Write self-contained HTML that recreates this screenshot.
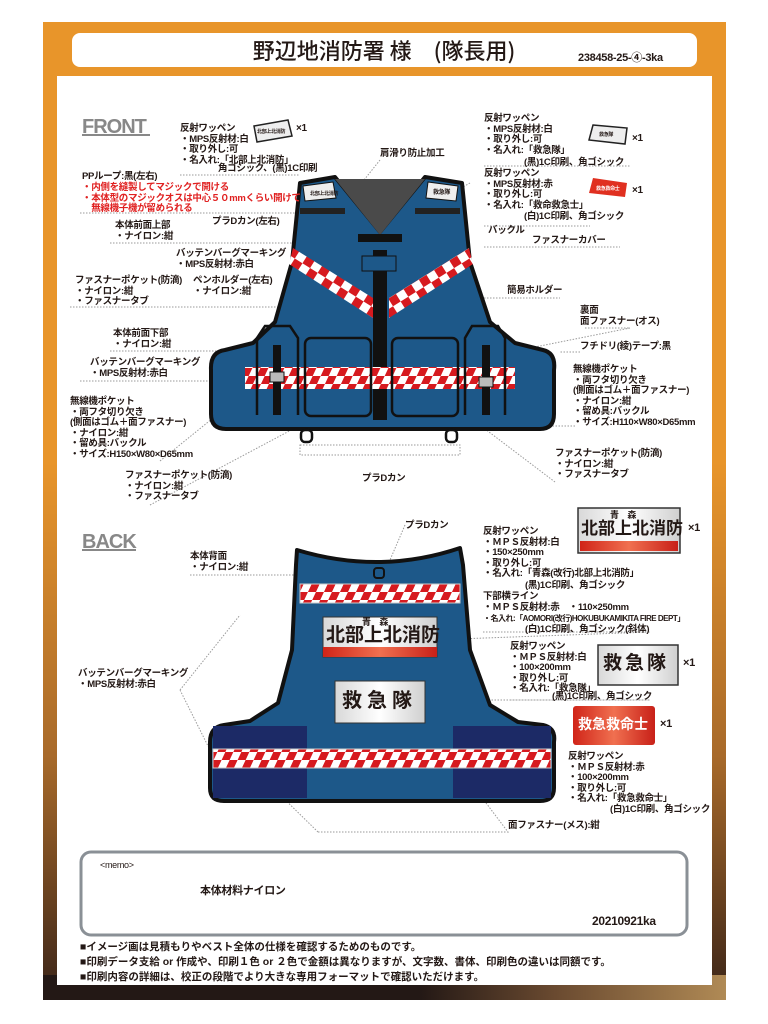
<!DOCTYPE html>
<html><head><meta charset="utf-8"><style>
*{margin:0;padding:0;box-sizing:border-box}
body{width:768px;height:1024px;background:#fff;position:relative;overflow:hidden;font-family:"Liberation Sans","Noto Sans CJK JP",sans-serif;color:#231815}
.t{position:absolute;font-size:9.5px;line-height:10.6px;font-weight:bold;white-space:pre;letter-spacing:-0.3px}
.r{color:#e02020}
</style></head><body>
<div style="position:absolute;left:43px;top:22px;width:683px;height:978px;background:linear-gradient(to bottom,#e8952a 0%,#e8952a 45%,#a86a2a 75%,#3a2418 100%)"></div>
<div style="position:absolute;left:43px;top:975px;width:683px;height:25px;background:linear-gradient(to right,#231815 0%,#231815 55%,#6a4a30 75%,#b08a55 100%)"></div>
<div style="position:absolute;left:57px;top:76px;width:655px;height:909px;background:#fff"></div>
<div style="position:absolute;left:72px;top:33px;width:625px;height:34px;background:#fff;border-radius:8px"></div>
<div style="position:absolute;left:0;width:768px;top:33px;text-align:center;font-size:22px;line-height:34px;font-family:'Noto Sans CJK JP',sans-serif;font-weight:500">野辺地消防署 様　(隊長用)</div>
<div class="t" style="left:578px;top:53px;font-size:11px">238458-25-④-3ka</div>

<svg width="768" height="1024" style="position:absolute;left:0;top:0">
<defs>
<pattern id="chk" width="16" height="16" patternUnits="userSpaceOnUse" patternTransform="skewX(-25)">
<rect width="16" height="16" fill="#fff"/><rect width="8" height="8" fill="#d61a1f"/><rect x="8" y="8" width="8" height="8" fill="#d61a1f"/></pattern>
<pattern id="chk2" width="18" height="18" patternUnits="userSpaceOnUse" patternTransform="rotate(32)">
<rect width="18" height="18" fill="#fff"/><rect width="9" height="9" fill="#d61a1f"/><rect x="9" y="9" width="9" height="9" fill="#d61a1f"/></pattern>
<pattern id="chk3" width="18" height="18" patternUnits="userSpaceOnUse" patternTransform="rotate(-32)">
<rect width="18" height="18" fill="#fff"/><rect width="9" height="9" fill="#d61a1f"/><rect x="9" y="9" width="9" height="9" fill="#d61a1f"/></pattern>
<linearGradient id="silver" x1="0" x2="1"><stop offset="0" stop-color="#d8d8d8"/><stop offset=".5" stop-color="#fff"/><stop offset="1" stop-color="#cfcfcf"/></linearGradient>
<linearGradient id="redg" x1="0" x2="1"><stop offset="0" stop-color="#d02418"/><stop offset=".5" stop-color="#f07050"/><stop offset="1" stop-color="#c82018"/></linearGradient>
</defs>
<text x="82" y="133" font-family="Liberation Sans" font-weight="bold" font-size="20" fill="#888" letter-spacing="-1">FRONT</text>
<rect x="82" y="134" width="68" height="2" fill="#888"/>
<text x="82" y="548" font-family="Liberation Sans" font-weight="bold" font-size="20" fill="#888" letter-spacing="-1">BACK</text>
<rect x="82" y="549" width="54" height="2" fill="#888"/>

<g fill="none" stroke="#9a9a9a" stroke-width="1" stroke-dasharray="1.5 1.5">
<path d="M180 175H300M80 213H300M110 243H300M70 307H300M110 351H245M80 381H250M160 461L260 380M150 505L310 420M484 166H630M484 226H590M484 247H620M484 298H560M585 328H630L520 350M580 352H560M575 426H530L460 395M555 482L460 410M300 445H460V455H300Z"/>
<path d="M190 575H300M180 690L240 615M180 690L220 770M483 632H650L430 640M510 700H650L425 700M318 832H508L480 795M318 832L270 785M405 525L390 560M470 183L440 200M380 160L360 185"/>
</g>

<!-- FRONT VEST -->
<path d="M300,183 L335,177 L380,232 L425,177 L462,183 L470,262 L490,322 L515,343 L543,350 Q556,353 554,370 L554,414 Q554,429 540,429 L226,429 Q211,429 211,414 L211,370 Q210,352 225,350 L253,343 L275,322 L292,262 Z" fill="#1d5889" stroke="#111" stroke-width="4" stroke-linejoin="round"/>
<path d="M335,179 L425,179 L380,235 Z" fill="#4a4a4a"/>
<polygon points="303,186 333,182 336,198 305,201" fill="#eee" stroke="#111"/>
<polygon points="428,182 458,186 456,201 426,198" fill="#eee" stroke="#111"/>
<polygon points="293,248 373,298 373,318 289,264" fill="url(#chk2)"/>
<polygon points="469,248 389,298 389,318 473,264" fill="url(#chk3)"/>
<rect x="300" y="208" width="45" height="6" fill="#222"/><rect x="415" y="208" width="45" height="6" fill="#222"/>
<rect x="358" y="234" width="44" height="8" fill="#111"/>
<rect x="373" y="250" width="14" height="170" fill="#111"/>
<rect x="362" y="256" width="34" height="15" fill="#1d5889" stroke="#111"/>
<rect x="245" y="367" width="270" height="22" fill="url(#chk)"/>
<g fill="none" stroke="#111" stroke-width="2.5">
<path d="M257,415 V338 L265,326 H290 L298,338 V415"/>
<path d="M465,415 V338 L472,326 H498 L505,338 V415"/>
<rect x="305" y="338" width="66" height="78" rx="6"/>
<rect x="392" y="338" width="66" height="78" rx="6"/>
</g>
<rect x="273" y="345" width="8" height="70" fill="#111"/><rect x="482" y="345" width="8" height="70" fill="#111"/>
<rect x="270" y="372" width="14" height="10" fill="#bbb" stroke="#111"/><rect x="479" y="377" width="14" height="10" fill="#bbb" stroke="#111"/>
<g fill="none" stroke="#111" stroke-width="2.5"><rect x="301" y="430" width="11" height="12" rx="4"/><rect x="446" y="430" width="11" height="12" rx="4"/></g>

<!-- BACK VEST -->
<path d="M297,550 Q380,575 460,548 L463,565 L470,650 L490,705 L518,722 L543,725 Q556,728 554,742 L554,788 Q554,801 540,801 L224,801 Q210,801 210,788 L210,742 Q210,727 224,725 L250,721 L278,703 L292,650 L296,565 Z" fill="#1d5889" stroke="#111" stroke-width="4" stroke-linejoin="round"/>
<rect x="213" y="726" width="94" height="72" fill="#1c2a66"/><rect x="453" y="726" width="98" height="72" fill="#1c2a66"/>
<rect x="300" y="584" width="160" height="19" fill="url(#chk)" stroke="#ccc"/>
<rect x="213" y="749" width="338" height="19" fill="url(#chk)" stroke="#ccc"/>
<rect x="374" y="568" width="10" height="10" rx="3" fill="none" stroke="#111" stroke-width="2"/>
<rect x="323" y="617" width="114" height="40" fill="url(#silver)" stroke="#333"/>
<rect x="323" y="647" width="114" height="10" fill="url(#redg)"/>
<rect x="335" y="681" width="90" height="42" fill="url(#silver)" stroke="#333"/>

<rect x="578" y="508" width="102" height="45" fill="url(#silver)" stroke="#333" stroke-width="1.5"/>
<rect x="580" y="541" width="98" height="10" fill="url(#redg)"/>
<rect x="598" y="645" width="80" height="40" fill="url(#silver)" stroke="#333" stroke-width="1.5"/>
<rect x="573" y="706" width="82" height="39" rx="3" fill="url(#redg)"/>
<polygon points="254,126 288,120 292,136 257,142" fill="#eee" stroke="#222" stroke-width="1.5"/>
<polygon points="593,125 627,128 625,144 589,140" fill="#eee" stroke="#222" stroke-width="1.5"/>
<polygon points="593,178 627,183 625,197 589,193" fill="#e03020"/>
<rect x="81" y="852" width="606" height="83" rx="10" fill="none" stroke="#8a9096" stroke-width="3"/>
</svg>

<div class="t" style="left:257px;top:127px;font-size:5px">北部上北消防</div>
<div class="t" style="left:599px;top:130px;font-size:5px">救急隊</div>
<div class="t" style="left:596px;top:184px;font-size:5px;color:#fff">救急救命士</div>
<div class="t" style="left:310px;top:189px;font-size:5px">北部上北消防</div>
<div class="t" style="left:433px;top:188px;font-size:6px">救急隊</div>
<div class="t" style="left:362px;top:617px;font-size:9px">青　森</div>
<div class="t" style="left:326px;top:626px;font-size:19px;line-height:20px;letter-spacing:0">北部上北消防</div>
<div class="t" style="left:342px;top:690px;font-size:20px;line-height:22px;letter-spacing:5px">救急隊</div>
<div class="t" style="left:610px;top:510px;font-size:9px">青　森</div>
<div class="t" style="left:581px;top:520px;font-size:17px;line-height:18px;letter-spacing:0">北部上北消防</div>
<div class="t" style="left:688px;top:523px;font-size:11px">×1</div>
<div class="t" style="left:603px;top:654px;font-size:19px;line-height:20px;letter-spacing:3px">救急隊</div>
<div class="t" style="left:683px;top:658px;font-size:11px">×1</div>
<div class="t" style="left:578px;top:716px;font-size:14px;line-height:16px;color:#fff;letter-spacing:0">救急救命士</div>
<div class="t" style="left:660px;top:719px;font-size:11px">×1</div>
<div class="t" style="left:296px;top:124px;font-size:10px">×1</div>
<div class="t" style="left:632px;top:134px;font-size:10px">×1</div>
<div class="t" style="left:632px;top:186px;font-size:10px">×1</div>

<div class="t" style="left:180px;top:124px">反射ワッペン
・MPS反射材:白
・取り外し:可
・名入れ:「北部上北消防」</div>
<div class="t" style="left:218px;top:164px">角ゴシック、(黒)1C印刷</div>
<div class="t" style="left:82px;top:172px">PPループ:黒(左右)</div>
<div class="t r" style="left:82px;top:183px">・内側を縫製してマジックで開ける
・本体型のマジックオスは中心５０mmくらい開けて
　無線機子機が留められる</div>
<div class="t" style="left:115px;top:221px">本体前面上部
・ナイロン:紺</div>
<div class="t" style="left:212px;top:217px">プラDカン(左右)</div>
<div class="t" style="left:176px;top:249px">バッテンバーグマーキング
・MPS反射材:赤白</div>
<div class="t" style="left:75px;top:276px">ファスナーポケット(防滴)
・ナイロン:紺
・ファスナータブ</div>
<div class="t" style="left:193px;top:276px">ペンホルダー(左右)
・ナイロン:紺</div>
<div class="t" style="left:113px;top:329px">本体前面下部
・ナイロン:紺</div>
<div class="t" style="left:90px;top:358px">バッテンバーグマーキング
・MPS反射材:赤白</div>
<div class="t" style="left:70px;top:397px">無線機ポケット
・両フタ切り欠き
(側面はゴム＋面ファスナー)
・ナイロン:紺
・留め具:バックル
・サイズ:H150×W80×D65mm</div>
<div class="t" style="left:125px;top:471px">ファスナーポケット(防滴)
・ナイロン:紺
・ファスナータブ</div>
<div class="t" style="left:380px;top:149px">肩滑り防止加工</div>
<div class="t" style="left:484px;top:114px">反射ワッペン
・MPS反射材:白
・取り外し:可
・名入れ:「救急隊」</div>
<div class="t" style="left:524px;top:158px">(黒)1C印刷、角ゴシック</div>
<div class="t" style="left:484px;top:169px">反射ワッペン
・MPS反射材:赤
・取り外し:可
・名入れ:「救命救急士」</div>
<div class="t" style="left:524px;top:212px">(白)1C印刷、角ゴシック</div>
<div class="t" style="left:488px;top:226px">バックル</div>
<div class="t" style="left:532px;top:236px">ファスナーカバー</div>
<div class="t" style="left:507px;top:286px">簡易ホルダー</div>
<div class="t" style="left:580px;top:306px">裏面
面ファスナー(オス)</div>
<div class="t" style="left:580px;top:342px">フチドリ(綾)テープ:黒</div>
<div class="t" style="left:573px;top:365px">無線機ポケット
・両フタ切り欠き
(側面はゴム＋面ファスナー)
・ナイロン:紺
・留め具:バックル
・サイズ:H110×W80×D65mm</div>
<div class="t" style="left:555px;top:449px">ファスナーポケット(防滴)
・ナイロン:紺
・ファスナータブ</div>
<div class="t" style="left:362px;top:474px">プラDカン</div>
<div class="t" style="left:405px;top:521px">プラDカン</div>
<div class="t" style="left:190px;top:552px">本体背面
・ナイロン:紺</div>
<div class="t" style="left:78px;top:669px">バッテンバーグマーキング
・MPS反射材:赤白</div>
<div class="t" style="left:483px;top:527px">反射ワッペン
・ＭＰＳ反射材:白
・150×250mm
・取り外し:可
・名入れ:「青森(改行)北部上北消防」</div>
<div class="t" style="left:525px;top:581px">(黒)1C印刷、角ゴシック</div>
<div class="t" style="left:483px;top:592px">下部横ライン
・ＭＰＳ反射材:赤　・110×250mm</div>
<div class="t" style="left:483px;top:614px;font-size:8px;letter-spacing:-0.5px">・名入れ:「AOMORI(改行)HOKUBUKAMIKITA FIRE DEPT」</div>
<div class="t" style="left:525px;top:625px">(白)1C印刷、角ゴシック(斜体)</div>
<div class="t" style="left:510px;top:642px">反射ワッペン
・ＭＰＳ反射材:白
・100×200mm
・取り外し:可
・名入れ:「救急隊」</div>
<div class="t" style="left:552px;top:692px">(黒)1C印刷、角ゴシック</div>
<div class="t" style="left:568px;top:752px">反射ワッペン
・ＭＰＳ反射材:赤
・100×200mm
・取り外し:可
・名入れ:「救急救命士」</div>
<div class="t" style="left:610px;top:805px">(白)1C印刷、角ゴシック</div>
<div class="t" style="left:508px;top:821px">面ファスナー(メス):紺</div>

<div class="t" style="left:100px;top:860px;font-weight:normal;font-size:9px">&lt;memo&gt;</div>
<div class="t" style="left:200px;top:886px;font-size:11px">本体材料ナイロン</div>
<div class="t" style="left:592px;top:914px;font-size:12px;line-height:14px">20210921ka</div>
<div class="t" style="left:80px;top:940px;font-size:10.5px;line-height:15px;letter-spacing:0">■イメージ画は見積もりやベスト全体の仕様を確認するためのものです。
■印刷データ支給 or 作成や、印刷１色 or ２色で金額は異なりますが、文字数、書体、印刷色の違いは同額です。
■印刷内容の詳細は、校正の段階でより大きな専用フォーマットで確認いただけます。</div>
</body></html>
